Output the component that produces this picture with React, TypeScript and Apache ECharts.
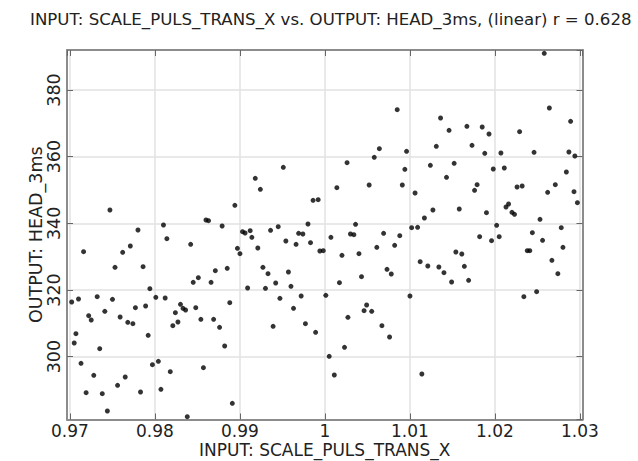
import React, { useEffect, useRef } from "react";
import * as echarts from "echarts";

const titleText = "INPUT: SCALE_PULS_TRANS_X vs. OUTPUT: HEAD_3ms, (linear) r = 0.628";
const xName = "INPUT: SCALE_PULS_TRANS_X";
const yName = "OUTPUT: HEAD_3ms";

const inputX = [
  0.9747, 0.9780, 0.9810, 0.9860, 0.9863, 0.9879, 0.9894, 0.9716, 0.9762, 0.9771,
  0.9814, 0.9842, 0.9897, 0.9900, 0.9753, 0.9786, 0.9871, 0.9885, 0.9845, 0.9851,
  0.9866, 0.9794, 0.9702, 0.9710, 0.9732, 0.9750, 0.9801, 0.9812, 0.9830, 0.9833,
  0.9836, 0.9824, 0.9827, 0.9821, 0.9848, 0.9888, 0.9741, 0.9722, 0.9725, 0.9759,
  0.9777, 0.9789, 0.9768, 0.9774, 0.9854, 0.9869, 0.9876, 0.9707, 0.9705, 0.9792,
  0.9735, 0.9882, 0.9713, 0.9728, 0.9797, 0.9804, 0.9818, 0.9857, 0.9765, 0.9719,
  0.9738, 0.9756, 0.9783, 0.9807, 0.9744, 0.9838, 0.9891, 0.9918, 0.9924, 0.9951,
  0.9986, 0.9992, 0.9903, 0.9906, 0.9912, 0.9936, 0.9945, 0.9980, 1.0014, 1.0026,
  1.0036, 1.0052, 1.0058, 1.0064, 1.0085, 1.0091, 1.0094, 1.0096, 0.9914, 0.9921,
  0.9969, 0.9974, 0.9954, 0.9966, 0.9983, 0.9994, 0.9998, 1.0007, 1.0020, 1.0030,
  1.0034, 1.0040, 1.0061, 1.0069, 1.0082, 1.0088, 0.9927, 0.9933, 0.9957, 0.9942,
  0.9960, 0.9909, 0.9930, 1.0017, 1.0043, 1.0073, 1.0078, 0.9947, 0.9972, 1.0001,
  1.0100, 0.9963, 1.0027, 1.0049, 1.0046, 1.0055, 0.9939, 0.9977, 0.9989, 1.0067,
  1.0076, 1.0023, 1.0005, 1.0011, 1.0258, 1.0264, 1.0289, 1.0136, 1.0146, 1.0167,
  1.0185, 1.0193, 1.0229, 1.0131, 1.0173, 1.0188, 1.0207, 1.0246, 1.0287, 1.0294,
  1.0124, 1.0152, 1.0143, 1.0198, 1.0211, 1.0284, 1.0106, 1.0176, 1.0179, 1.0226,
  1.0232, 1.0271, 1.0262, 1.0293, 1.0297, 1.0117, 1.0127, 1.0158, 1.0190, 1.0213,
  1.0216, 1.0220, 1.0223, 1.0253, 1.0102, 1.0109, 1.0202, 1.0278, 1.0182, 1.0196,
  1.0205, 1.0244, 1.0256, 1.0280, 1.0154, 1.0161, 1.0238, 1.0241, 1.0112, 1.0121,
  1.0134, 1.0140, 1.0164, 1.0149, 1.0169, 1.0267, 1.0274, 1.0234, 1.0249, 1.0114,
];

const outputY = [
  344.0, 338.0, 339.5, 341.0, 340.8, 339.2, 345.4, 331.5, 331.3, 333.2,
  335.4, 333.7, 332.5, 330.9, 326.8, 327.0, 325.8, 326.5, 322.3, 323.7,
  322.3, 320.4, 316.4, 317.3, 318.0, 317.2, 317.8, 317.6, 315.7, 314.5,
  314.0, 313.2, 310.4, 309.3, 314.7, 316.2, 313.6, 312.3, 311.0, 311.9,
  314.7, 315.2, 310.3, 309.9, 311.2, 311.2, 308.8, 306.9, 304.1, 306.4,
  302.4, 303.2, 298.0, 294.4, 297.6, 298.6, 295.5, 296.7, 293.9, 289.2,
  288.9, 291.4, 289.4, 290.2, 283.7, 282.0, 286.0, 353.5, 350.2, 356.8,
  346.9, 347.1, 337.5, 337.1, 337.8, 337.9, 339.0, 339.8, 350.7, 358.2,
  339.7, 351.5, 359.8, 362.4, 374.1, 351.5, 356.2, 361.6, 335.8, 332.6,
  337.0, 336.8, 334.7, 333.7, 334.2, 331.7, 331.8, 335.8, 330.4, 336.8,
  336.6, 330.9, 332.8, 337.0, 333.4, 336.3, 326.8, 324.9, 325.4, 322.1,
  321.1, 320.6, 320.5, 322.2, 324.0, 326.2, 324.8, 317.5, 318.2, 318.4,
  318.2, 314.5, 311.8, 315.5, 313.8, 313.6, 309.1, 309.9, 307.3, 309.3,
  305.9, 302.8, 300.1, 294.5, 391.0, 374.6, 370.6, 371.6, 367.9, 369.1,
  368.9, 366.8, 367.5, 363.1, 363.4, 361.0, 361.1, 361.3, 361.4, 360.2,
  357.4, 358.0, 353.8, 356.3, 356.6, 355.4, 349.1, 349.9, 351.6, 350.9,
  351.2, 351.6, 349.3, 349.5, 346.2, 341.6, 344.0, 344.3, 343.2, 344.9,
  345.8, 343.3, 342.7, 341.2, 338.7, 338.8, 339.4, 338.7, 336.0, 334.8,
  336.0, 337.2, 334.9, 332.8, 331.4, 330.8, 331.8, 331.8, 328.5, 327.2,
  326.9, 325.2, 327.1, 322.4, 322.9, 328.9, 324.9, 318.0, 319.5, 294.8,
];

const xMin = 0.96965;
const xMax = 1.0303;
const yMin = 281.15;
const yMax = 392;

const FONT = "DejaVu Sans";

export default function App() {
  const ref = useRef<HTMLDivElement>(null);
  useEffect(() => {
    if (!ref.current) return;
    const chart = echarts.init(ref.current, undefined, { renderer: "svg" });
    const frame = { show: true, lineStyle: { color: "#8c8c8c", width: 2 } };
    const tick = { show: true, inside: true, length: 6, lineStyle: { color: "#666", width: 1 } };
    const split = { show: true, lineStyle: { color: "#e2e2e2", width: 1.5 } };
    const points = inputX.map((x, i) => [x, outputY[i]]);
    chart.setOption({
      animation: false,
      backgroundColor: "#ffffff",
      textStyle: { fontFamily: FONT },
      title: {
        text: titleText,
        left: 25,
        top: 6,
        textStyle: { fontFamily: FONT, fontSize: 16.6, fontWeight: "normal", color: "#222" },
      },
      grid: {
        left: 67,
        right: 55.5,
        top: 50,
        bottom: 41.5,
        show: false,
        containLabel: false,
        outerBoundsMode: "none",
      },
      xAxis: [
        {
          type: "value",
          min: xMin,
          max: xMax,
          minInterval: 0.01,
          maxInterval: 0.01,
          position: "bottom",
          name: xName,
          nameLocation: "middle",
          nameGap: 22,
          nameMoveOverlap: false,
          nameTextStyle: { fontFamily: FONT, fontSize: 17, color: "#222" },
          axisLine: frame,
          axisTick: tick,
          splitLine: split,
          axisLabel: {
            showMinLabel: false,
            showMaxLabel: false,
            margin: 3,
            fontFamily: FONT,
            fontSize: 17,
            color: "#222",
            formatter: (v: number) => String(Math.round(v * 100) / 100),
          },
        },
        {
          type: "value",
          min: xMin,
          max: xMax,
          minInterval: 0.01,
          maxInterval: 0.01,
          position: "top",
          axisLine: frame,
          axisTick: tick,
          splitLine: { show: false },
          axisLabel: { show: false },
        },
      ],
      yAxis: [
        {
          type: "value",
          min: yMin,
          max: yMax,
          minInterval: 20,
          maxInterval: 20,
          position: "left",
          name: yName,
          nameLocation: "middle",
          nameGap: 22,
          nameMoveOverlap: false,
          nameTextStyle: { fontFamily: FONT, fontSize: 17.5, color: "#222" },
          axisLine: frame,
          axisTick: tick,
          splitLine: split,
          axisLabel: {
            showMinLabel: false,
            showMaxLabel: false,
            rotate: 90,
            margin: 4,
            fontFamily: FONT,
            fontSize: 17.5,
            color: "#222",
          },
        },
        {
          type: "value",
          min: yMin,
          max: yMax,
          minInterval: 20,
          maxInterval: 20,
          position: "right",
          axisLine: frame,
          axisTick: tick,
          splitLine: { show: false },
          axisLabel: { show: false },
        },
      ],
      series: [
        {
          type: "scatter",
          data: points,
          symbol: "circle",
          symbolSize: 5,
          itemStyle: { color: "#000" },
          xAxisIndex: 0,
          yAxisIndex: 0,
        },
      ],
    });
    return () => chart.dispose();
  }, []);
  return <div ref={ref} style={{ width: 638, height: 461, position: "absolute", left: 0, top: 0 }} />;
}
